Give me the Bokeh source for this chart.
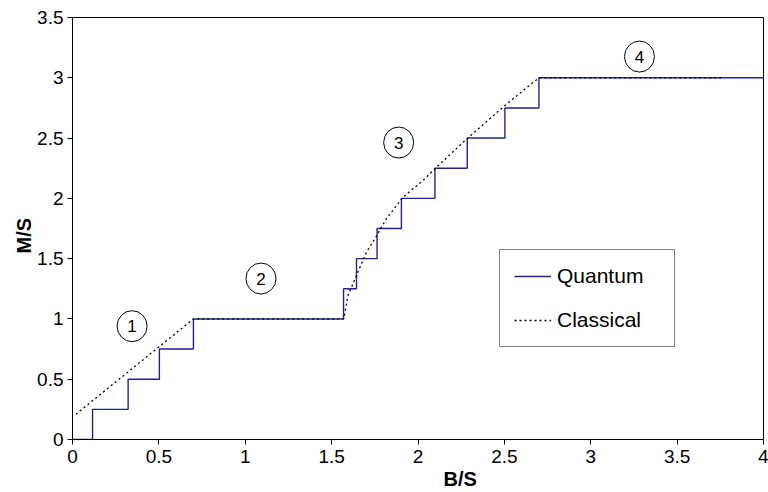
from bokeh.plotting import figure
from bokeh.models import FixedTicker, Range1d, Legend, LegendItem, Title
from bokeh.core.properties import value
from bokeh.embed import file_html
from bokeh.resources import INLINE

# ---- data ----
quantum_b = [0, 0.116, 0.322, 0.503, 0.70, 1.569, 1.644, 1.763, 1.904, 2.098, 2.285, 2.503, 2.70, 4.0]
quantum_m = [0, 0.25, 0.5, 0.75, 1.0, 1.25, 1.5, 1.75, 2.0, 2.25, 2.5, 2.75, 3.0, 3.0]

classical_b = [0.02, 0.70, 1.57, 1.595, 1.624, 1.663, 1.702, 1.756, 1.817, 1.913, 2.029, 2.097, 2.28, 2.511, 2.70, 3.754]
classical_m = [0.21, 1.0, 1.0, 1.196, 1.292, 1.425, 1.554, 1.679, 1.831, 2.01, 2.148, 2.245, 2.49, 2.78, 3.0, 3.0]

region_labels = ["1", "2", "3", "4"]
region_b = [0.345, 1.091, 1.888, 3.282]
region_m = [0.94, 1.335, 2.463, 3.176]

x_ticks = [0, 0.5, 1, 1.5, 2, 2.5, 3, 3.5, 4]
x_tick_labels = ["0", "0.5", "1", "1.5", "2", "2.5", "3", "3.5", "4"]
y_ticks = [0, 0.5, 1, 1.5, 2, 2.5, 3, 3.5]
y_tick_labels = ["0", "0.5", "1", "1.5", "2", "2.5", "3", "3.5"]

FONT = "Liberation Sans"

p = figure(width=768, height=492, output_backend="svg", toolbar_location=None,
           x_range=Range1d(0, 4), y_range=Range1d(0, 3.5),
           min_border_left=72, min_border_right=5, min_border_top=17, min_border_bottom=53)

p.background_fill_color = "white"
p.border_fill_color = "white"
p.outline_line_color = "black"
p.outline_line_width = 1
p.xgrid.visible = False
p.ygrid.visible = False

for ax, ticks, labels in ((p.xaxis[0], x_ticks, x_tick_labels), (p.yaxis[0], y_ticks, y_tick_labels)):
    ax.ticker = FixedTicker(ticks=ticks)
    ax.major_label_overrides = {t: l for t, l in zip(ticks, labels)}
    ax.minor_tick_line_color = None
    ax.major_tick_in = 0
    ax.major_tick_out = 5
    ax.axis_line_color = "black"
    ax.major_tick_line_color = "black"
    ax.major_label_text_font = FONT
    ax.major_label_text_font_size = "19px"
    ax.major_label_text_color = "black"

p.xaxis.major_label_standoff = 5
p.yaxis.major_label_standoff = 4

q = p.step(quantum_b, quantum_m, mode="after", line_color="#22228f", line_width=1.4)
c = p.line(classical_b, classical_m, line_color="black", line_width=1.3, line_dash="2 3")

p.ellipse(x=region_b, y=region_m, width=30, height=31, width_units="screen", height_units="screen",
          fill_color=None, line_color="black", line_width=1)
p.text(x=region_b, y=region_m, text=region_labels, text_align="center", text_baseline="middle",
       text_font=value(FONT), text_font_size="17px", text_color="black")

legend = Legend(items=[LegendItem(label="Quantum", renderers=[q]),
                       LegendItem(label="Classical", renderers=[c])],
                location=(427, 92), border_line_color="black", border_line_width=1,
                label_text_font=FONT, label_text_font_size="21px", label_text_color="black",
                glyph_width=37, padding=14, spacing=20, margin=0, label_standoff=6,
                label_width=103, background_fill_alpha=1.0)
p.add_layout(legend, "center")

p.add_layout(Title(text="B/S", align="left", offset=371, standoff=0,
                   text_font=FONT, text_font_size="20px", text_font_style="bold",
                   text_color="black"), "below")
p.add_layout(Title(text="M/S", align="left", offset=186, standoff=0,
                   text_font=FONT, text_font_size="20px", text_font_style="bold",
                   text_color="black"), "left")

open("out.html", "w").write(file_html(p, INLINE))
